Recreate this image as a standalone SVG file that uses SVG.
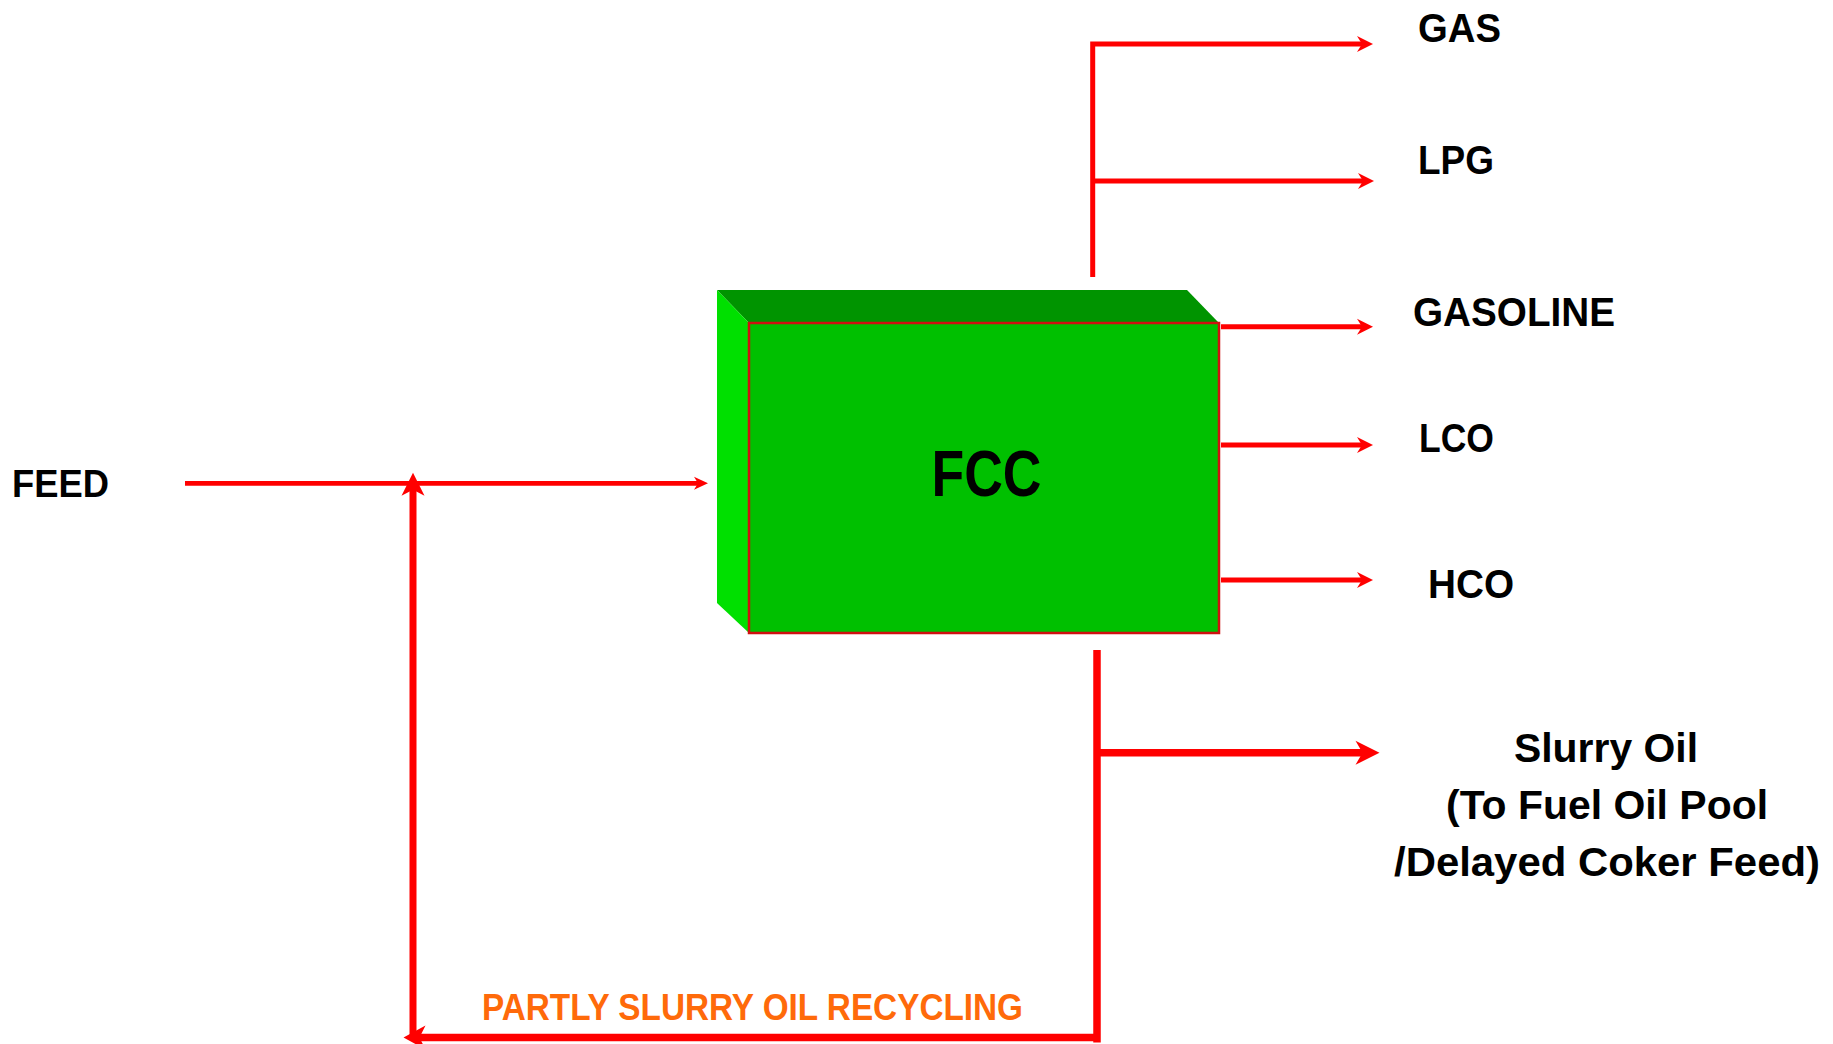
<svg xmlns="http://www.w3.org/2000/svg" width="1833" height="1044" viewBox="0 0 1833 1044">
<style>
  .lbl { font-family: "Liberation Sans", Arial, sans-serif; font-weight: bold; font-size: 41px; fill: #000; }
  .big { font-size: 64px; }
  .feed { font-size: 39px; }
  .rec { font-size: 37px; fill: #ff6a0a; }
  .pipe { fill: none; stroke: #ff0000; stroke-linecap: butt; stroke-linejoin: miter; }
  .thin { stroke-width: 5; }
  .thick { stroke-width: 7.5; }
  .head { fill: #ff0000; }
</style>
<defs>
  <marker id="m1" markerUnits="userSpaceOnUse" markerWidth="18" markerHeight="18" refX="6" refY="8" orient="auto" overflow="visible">
    <path class="head" d="M0,0 L16,8 L0,16 L5,8 Z"/>
  </marker>
  <marker id="m2" markerUnits="userSpaceOnUse" markerWidth="16" markerHeight="16" refX="4" refY="6.5" orient="auto" overflow="visible">
    <path class="head" d="M0,0 L14,6.5 L0,13 L4,6.5 Z"/>
  </marker>
  <marker id="m3" markerUnits="userSpaceOnUse" markerWidth="26" markerHeight="26" refX="14" refY="12" orient="auto" overflow="visible">
    <path class="head" d="M0,0 L24,12 L0,24 L7,12 Z"/>
  </marker>
  <marker id="m4" markerUnits="userSpaceOnUse" markerWidth="24" markerHeight="26" refX="12" refY="12" orient="auto" overflow="visible">
    <path class="head" d="M0,0 L22,12 L0,24 L6,12 Z"/>
  </marker>
  <marker id="m5" markerUnits="userSpaceOnUse" markerWidth="25" markerHeight="25" refX="13" refY="11.5" orient="auto" overflow="visible">
    <path class="head" d="M0,0 L23,11.5 L0,23 L6,11.5 Z"/>
  </marker>
</defs>
<rect width="1833" height="1044" fill="#ffffff"/>

<g id="fcc">
  <polygon points="717,290 1187,290 1219,323 749,323" fill="#009400"/>
  <polygon points="717,290 749,323 749,633 717,603" fill="#00e000"/>
  <rect x="749" y="323" width="470" height="310" fill="#00c000" stroke="#d01010" stroke-width="2.5"/>
  <text class="lbl big" x="986.5" y="495.7" text-anchor="middle" textLength="110" lengthAdjust="spacingAndGlyphs">FCC</text>
</g>

<g id="connectors">
  <path class="pipe thin" d="M1092.7,277 V44 H1363" marker-end="url(#m1)"/>
  <path class="pipe thin" d="M1092.7,181 H1364" marker-end="url(#m1)"/>
  <path class="pipe thin" d="M1221,326.7 H1363" marker-end="url(#m1)"/>
  <path class="pipe thin" d="M1221,445 H1363" marker-end="url(#m1)"/>
  <path class="pipe thin" d="M1221,580 H1363" marker-end="url(#m1)"/>
  <path class="pipe" stroke-width="4.7" d="M185,483.3 H698" marker-end="url(#m2)"/>
  <path class="pipe thick" d="M1097,650 V1042.5"/>
  <path class="pipe thick" d="M1097,752.8 H1369.5" marker-end="url(#m3)"/>
  <path class="pipe thick" d="M1097,1037.5 H413.5" marker-end="url(#m4)"/>
  <path class="pipe" stroke-width="7" d="M413,1040 V482.7" marker-end="url(#m5)"/>
</g>

<g id="feed"><text class="lbl feed" x="12" y="496.7" textLength="97" lengthAdjust="spacingAndGlyphs">FEED</text></g>
<g id="gas"><text class="lbl" x="1418" y="41.7" textLength="83" lengthAdjust="spacingAndGlyphs">GAS</text></g>
<g id="lpg"><text class="lbl" x="1418" y="174.3" textLength="76" lengthAdjust="spacingAndGlyphs">LPG</text></g>
<g id="gasoline"><text class="lbl" x="1413" y="325.5" textLength="202" lengthAdjust="spacingAndGlyphs">GASOLINE</text></g>
<g id="lco"><text class="lbl" x="1419" y="451.7" textLength="75" lengthAdjust="spacingAndGlyphs">LCO</text></g>
<g id="hco"><text class="lbl" x="1428" y="598.3" textLength="86" lengthAdjust="spacingAndGlyphs">HCO</text></g>
<g id="slurry">
  <text class="lbl" x="1606" y="761.7" text-anchor="middle" textLength="184" lengthAdjust="spacingAndGlyphs">Slurry Oil</text>
  <text class="lbl" x="1607" y="819.3" text-anchor="middle" textLength="322" lengthAdjust="spacingAndGlyphs">(To Fuel Oil Pool</text>
  <text class="lbl" x="1607" y="876" text-anchor="middle" textLength="426" lengthAdjust="spacingAndGlyphs">/Delayed Coker Feed)</text>
</g>
<g id="recycle"><text class="lbl rec" x="482" y="1020" textLength="541" lengthAdjust="spacingAndGlyphs">PARTLY SLURRY OIL RECYCLING</text></g>
</svg>
